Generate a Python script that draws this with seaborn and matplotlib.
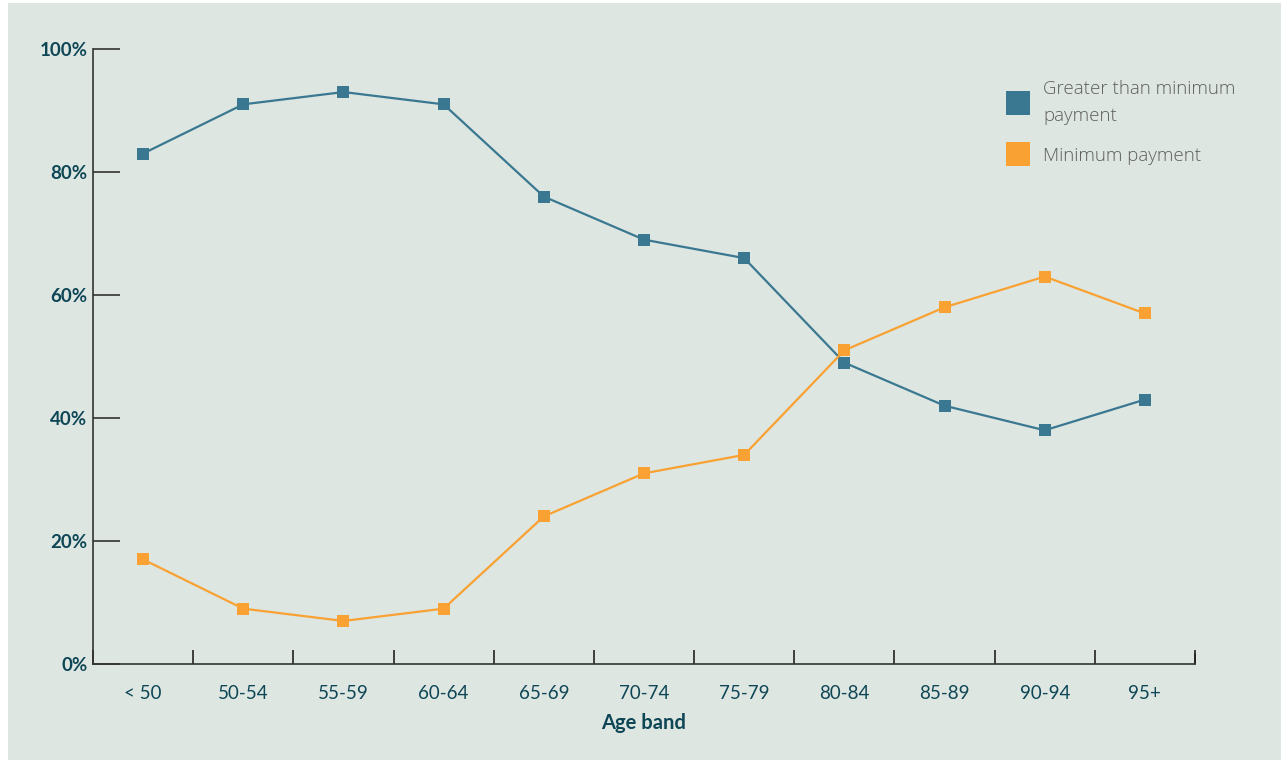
import pandas as pd
import matplotlib.pyplot as plt
import matplotlib.patches as mpatches
from matplotlib.lines import Line2D
import seaborn as sns

# chart data
age_bands = ["< 50", "50-54", "55-59", "60-64", "65-69", "70-74",
             "75-79", "80-84", "85-89", "90-94", "95+"]
greater_than_min = [83, 91, 93, 91, 76, 69, 66, 49, 42, 38, 43]
minimum_payment = [17, 9, 7, 9, 24, 31, 34, 51, 58, 63, 57]
series_names = ["Greater than minimum\npayment", "Minimum payment"]
series_colors = ["#3a7891", "#f9a132"]
y_ticks = [0, 20, 40, 60, 80, 100]

df = pd.DataFrame({
    "Age band": age_bands * 2,
    "Share": greater_than_min + minimum_payment,
    "Series": [series_names[0]] * len(age_bands) + [series_names[1]] * len(age_bands),
})

bg = "#dde6e1"
text_col = "#0e4656"

sns.set_style("white")
plt.rcParams["font.family"] = ["Lato", "DejaVu Sans"]

fig = plt.figure(figsize=(12.81, 7.60), dpi=100, facecolor="white")
fig.add_artist(mpatches.Rectangle((8 / 1281, 0), 1, 757 / 760,
                                  transform=fig.transFigure,
                                  facecolor=bg, edgecolor="none", zorder=-10))
ax = fig.add_axes([93 / 1281, 96 / 760, 1102 / 1281, 615 / 760])
ax.set_facecolor(bg)

sns.lineplot(data=df, x="Age band", y="Share", hue="Series",
             palette=series_colors, marker="s", markersize=9,
             markeredgewidth=0, linewidth=1.6, legend=False, ax=ax, sort=False)

ax.set_xlim(-0.5, len(age_bands) - 0.5)
ax.set_ylim(0, 100)
ax.set_yticks(y_ticks)
ax.set_yticklabels([f"{v}%" for v in y_ticks], fontweight="bold",
                   fontsize=13.5, color=text_col)
ax.set_xticks(range(len(age_bands)))
ax.set_xticklabels(age_bands, fontsize=13.5, color=text_col)
ax.set_xticks([i - 0.5 for i in range(len(age_bands) + 1)], minor=True)

ax.tick_params(axis="x", which="major", bottom=True, length=0, pad=15)
ax.tick_params(axis="x", which="minor", bottom=True, direction="in",
               length=10, width=1.2, color="#222222")
ax.tick_params(axis="y", which="major", left=True, direction="in",
               length=19.5, width=1.2, color="#333333", pad=4)

ax.spines["top"].set_visible(False)
ax.spines["right"].set_visible(False)
for side in ["left", "bottom"]:
    ax.spines[side].set_color("#333333")
    ax.spines[side].set_linewidth(1.2)

ax.set_ylabel("")
ax.set_xlabel("Age band", fontsize=14.5, fontweight="bold", color=text_col,
              labelpad=8)

# boundary tick at the right edge of the x axis
ax.plot([1, 1], [0, 10 / 615], transform=ax.transAxes, color="#222222",
        lw=1.2, clip_on=False)

handles = [Line2D([], [], marker="s", linestyle="none", markersize=17,
                  markerfacecolor=c, markeredgewidth=0) for c in series_colors]
leg = fig.legend(handles, series_names, loc="upper left",
                 bbox_to_anchor=(990 / 1281, 697 / 760), frameon=False,
                 handletextpad=0.75, labelspacing=1.15, handlelength=1.2,
                 prop={"family": ["Open Sans", "DejaVu Sans"],
                       "weight": "light", "size": 13.5})
for t in leg.get_texts():
    t.set_color("#5e5e5e")
    t.set_linespacing(1.65)

fig.savefig("out.png", dpi=100, facecolor="white")
